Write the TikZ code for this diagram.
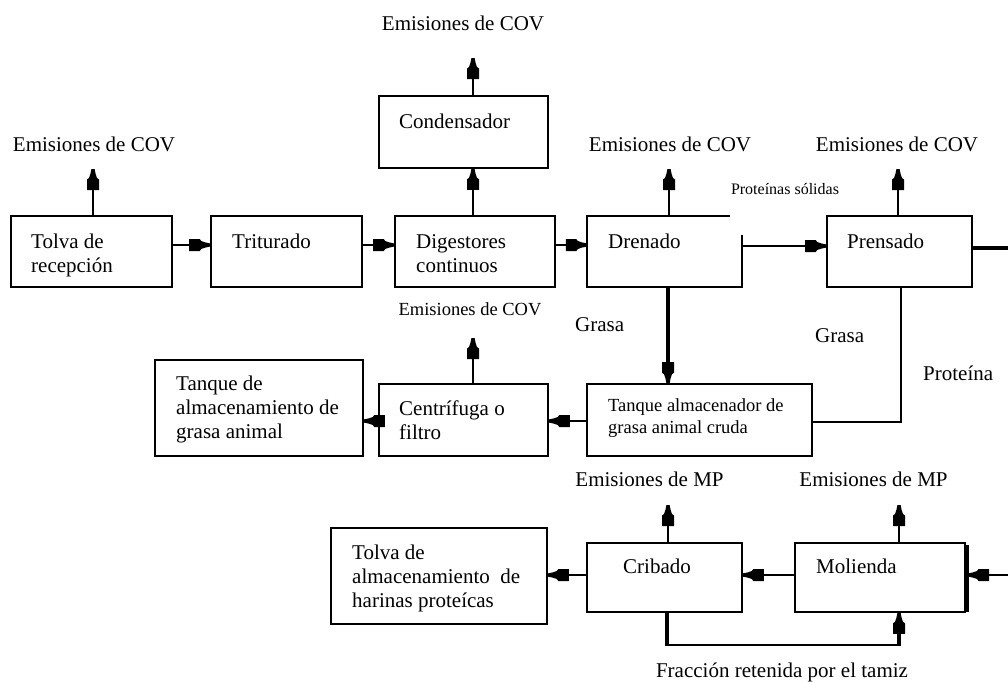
\documentclass[tikz,border=0pt]{standalone}
\usepackage{fontspec}
\setmainfont{Liberation Serif}
\usetikzlibrary{arrows.meta}
\pgfdeclarearrow{
  name = Bell,
  setup code = {
    \pgfarrowssettipend{0pt}
    \pgfarrowssetlineend{-10pt}
    \pgfarrowssetvisualbackend{-21pt}
    \pgfarrowssetbackend{-21pt}
    \pgfarrowshullpoint{0pt}{2pt}
    \pgfarrowshullpoint{0pt}{-2pt}
    \pgfarrowshullpoint{-21pt}{6pt}
    \pgfarrowshullpoint{-21pt}{-6pt}
  },
  drawing code = {
    \pgfpathmoveto{\pgfqpoint{0pt}{1.6pt}}
    \pgfpathlineto{\pgfqpoint{-5pt}{2.6pt}}
    \pgfpathlineto{\pgfqpoint{-9pt}{4pt}}
    \pgfpathlineto{\pgfqpoint{-10.5pt}{6pt}}
    \pgfpathlineto{\pgfqpoint{-21pt}{6pt}}
    \pgfpathlineto{\pgfqpoint{-21pt}{-6pt}}
    \pgfpathlineto{\pgfqpoint{-10.5pt}{-6pt}}
    \pgfpathlineto{\pgfqpoint{-9pt}{-4pt}}
    \pgfpathlineto{\pgfqpoint{-5pt}{-2.6pt}}
    \pgfpathlineto{\pgfqpoint{0pt}{-1.6pt}}
    \pgfpathclose
    \pgfusepathqfill
  }
}
\tikzset{
  box/.style={draw, line width=1.6pt, inner sep=0pt},
  conn/.style={line width=1.6pt},
  thk/.style={line width=3.2pt},
  arr/.style={conn, -Bell},
  txt/.style={font=\fontsize{21}{24}\selectfont, inner sep=0pt, align=left, anchor=base west},
  stxt/.style={font=\fontsize{18.5}{22}\selectfont, inner sep=0pt, align=left, anchor=base west},
  em/.style={font=\fontsize{21}{24}\selectfont, inner sep=0pt, anchor=base},
  sem/.style={font=\fontsize{18.5}{22}\selectfont, inner sep=0pt, anchor=base},
}
\begin{document}
\begin{tikzpicture}[x=1pt, y=-1pt]
\useasboundingbox[fill=white] (0,0) rectangle (1008,681);

% boxes
\node[box, minimum width=161, minimum height=71] (tolva) at (91.5,251.5) {};
\node[box, minimum width=151, minimum height=71] (trit) at (286.5,251.5) {};
\node[box, minimum width=160, minimum height=71] (dig) at (475,251.5) {};
\node[inner sep=0pt, minimum width=155, minimum height=71] (dren) at (664.5,251.5) {};
\draw[line width=1.6pt] (730,216) -| (dren.south west) -| (742,235);
\node[box, minimum width=145, minimum height=71] (pren) at (899.5,251.5) {};
\node[box, minimum width=169, minimum height=72] (cond) at (463.5,132) {};
\node[box, minimum width=208, minimum height=96] (tgrasa) at (259,408) {};
\node[box, minimum width=169, minimum height=72] (centr) at (463.5,420) {};
\node[box, minimum width=225, minimum height=72] (talm) at (699.5,420) {};
\node[box, minimum width=216, minimum height=96] (tharina) at (439,576) {};
\node[box, minimum width=155, minimum height=69] (crib) at (664.5,577.5) {};
\node[box, minimum width=170, minimum height=69] (mol) at (880,577.5) {};
\draw[line width=3pt] (967,545) -- (967,612);

% box texts (base = baseline of last line)
\node[txt] (tolvaT) at (31,272) {Tolva de\\recepción};
\node[txt] (tritT) at (232,248) {Triturado};
\node[txt] (digT) at (416,272) {Digestores\\continuos};
\node[txt] (drenT) at (608,248) {Drenado};
\node[txt] (prenT) at (847,248) {Prensado};
\node[txt] (condT) at (399,128) {Condensador};
\node[txt] (tgrasaT) at (176,438) {Tanque de\\almacenamiento de\\grasa animal};
\node[txt] (centrT) at (399,439) {Centrífuga o\\filtro};
\node[stxt] (talmT) at (608,433) {Tanque almacenador de\\grasa animal cruda};
\node[txt] (tharinaT) at (352,607) {Tolva de\\almacenamiento~ de\\harinas proteícas};
\node[txt] (cribT) at (623,573) {Cribado};
\node[txt] (molT) at (816,573) {Molienda};

% emission labels
\node[em] (e0) at (463,30) {Emisiones de COV};
\node[em] (e1) at (94,151) {Emisiones de COV};
\node[em] (e2) at (670,151) {Emisiones de COV};
\node[em] (e3) at (897,151) {Emisiones de COV};
\node[sem] (e4) at (470,315) {Emisiones de COV};
\node[em] (e5) at (649.5,486) {Emisiones de MP};
\node[em] (e6) at (873.5,486) {Emisiones de MP};

% other labels
\node[font=\fontsize{16}{19}\selectfont, inner sep=0pt, anchor=base] (ps) at (785,194) {Proteínas sólidas};
\node[txt] (g1) at (575,331) {Grasa};
\node[txt] (g2) at (815,342) {Grasa};
\node[txt] (prot) at (923,380) {Proteína};
\node[em] (frac) at (782,677) {Fracción retenida por el tamiz};

% emission tips
\coordinate (p0) at (473,58);
\coordinate (p1) at (93,169);
\coordinate (p2) at (669,169);
\coordinate (p3) at (898,169);
\coordinate (p4) at (473,338);
\coordinate (p5) at (668,505);
\coordinate (p6) at (899,505);

\draw[arr] (cond.north -| p0) -- (p0);
\draw[arr] (tolva.north -| p1) -- (p1);
\draw[arr] (dren.north -| p2) -- (p2);
\draw[arr] (pren.north -| p3) -- (p3);
\draw[arr] (centr.north -| p4) -- (p4);
\draw[arr] (crib.north -| p5) -- (p5);
\draw[arr] (mol.north -| p6) -- (p6);
\draw[arr] (dig.north -| p0) -- (cond.south -| p0);

% main flow
\draw[arr] (tolva.east |- 0,245) -- (trit.west |- 0,245);
\draw[arr] (trit.east |- 0,245) -- (dig.west |- 0,245);
\draw[arr] (dig.east |- 0,245) -- (dren.west |- 0,245);
\draw[arr] (742,246) -- (pren.west |- 0,246);
\coordinate (rOut) at (1008,248);
\draw[thk] (pren.east |- rOut) -- (rOut);

% grasa
\draw[line width=3.5pt, -Bell] (dren.south -| 668,0) -- (talm.north -| 668,0);
\draw[line width=2.6pt] (pren.south -| 901,0) -- (901,422) -- (talm.east |- 0,422);
\draw[arr] (talm.west |- 0,421) -- (centr.east |- 0,421);
\draw[arr] (centr.west |- 0,421) -- (tgrasa.east |- 0,421);

% harinas
\coordinate (rIn) at (1008,575);
\draw[arr] (rIn) -- (968,575);
\draw[arr] (mol.west |- 0,575) -- (crib.east |- 0,575);
\draw[arr] (crib.west |- 0,575) -- (tharina.east |- 0,575);
\draw[thk] (crib.south -| 667,0) -- (667,646);
\draw[conn] (667,645) -- (899,645);
\draw[thk, -Bell] (899,646) -- (mol.south -| 899,0);
\end{tikzpicture}
\end{document}
